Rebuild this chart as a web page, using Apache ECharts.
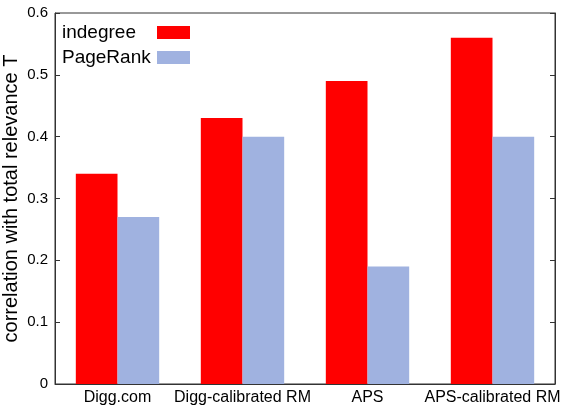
<!DOCTYPE html>
<html>
<head>
<meta charset="utf-8">
<script src="https://cdn.jsdelivr.net/npm/echarts@6/dist/echarts.min.js"></script>
<style>html,body{margin:0;padding:0;background:#fff}#c{width:581px;height:407px}</style>
</head>
<body>
<div id="c"></div>
<script>
const categories = ['Digg.com', 'Digg-calibrated RM', 'APS', 'APS-calibrated RM'];
const indegree = [0.34, 0.43, 0.49, 0.56];
const pageRank = [0.27, 0.40, 0.19, 0.40];
const yTicks = [0, 0.1, 0.2, 0.3, 0.4, 0.5, 0.6];

const font = 'Liberation Sans, Arial, Helvetica, sans-serif';
const chart = echarts.init(document.getElementById('c'), null, {renderer: 'canvas'});
chart.setOption({
  animation: false,
  backgroundColor: '#fff',
  grid: {left: 55, right: 26, top: 13, bottom: 23, containLabel: false, outerBoundsMode: 'none',
         show: true, borderColor: '#333', borderWidth: 1, backgroundColor: 'transparent'},
  legend: {
    orient: 'vertical', left: 62, top: 23, align: 'right', padding: 0,
    icon: 'rect',
    itemWidth: 33, itemHeight: 13, itemGap: 6,
    formatter: '{t|{name}}',
    textStyle: {fontFamily: font, fontSize: 19, color: '#000',
      rich: {t: {fontFamily: font, fontSize: 19, color: '#000', width: 90, align: 'left', lineHeight: 20}}},
    data: ['indegree', 'PageRank']
  },
  xAxis: {
    type: 'category', data: categories,
    axisLine: {lineStyle: {color: '#333'}},
    axisTick: {show: false},
    axisLabel: {fontFamily: font, fontSize: 16, color: '#000', margin: 6, interval: 0}
  },
  yAxis: [{
    type: 'value', min: yTicks[0], max: yTicks[yTicks.length - 1], interval: 0.1,
    name: 'correlation with total relevance T', nameLocation: 'middle', nameGap: 34,
    nameMoveOverlap: false,
    nameTextStyle: {fontFamily: font, fontSize: 20, color: '#000'},
    axisLine: {show: true, lineStyle: {color: '#333'}},
    axisTick: {show: true, inside: true, length: 5, lineStyle: {color: '#333'}},
    axisLabel: {fontFamily: font, fontSize: 15, color: '#000', margin: 7, formatter: v => String(Math.round(v * 10) / 10)},
    splitLine: {show: false}
  }, {
    type: 'value', position: 'right', min: yTicks[0], max: yTicks[yTicks.length - 1], interval: 0.1,
    axisLine: {show: true, lineStyle: {color: '#333'}},
    axisTick: {show: true, inside: true, length: 5, lineStyle: {color: '#333'}},
    axisLabel: {show: false},
    splitLine: {show: false}
  }],
  series: [
    {name: 'indegree', type: 'bar', data: indegree, itemStyle: {color: '#ff0000'}, barGap: '0%', barCategoryGap: '33.3%'},
    {name: 'PageRank', type: 'bar', data: pageRank, itemStyle: {color: '#a0b2e0'}, barGap: '0%', barCategoryGap: '33.3%'}
  ]
});
</script>
</body>
</html>
